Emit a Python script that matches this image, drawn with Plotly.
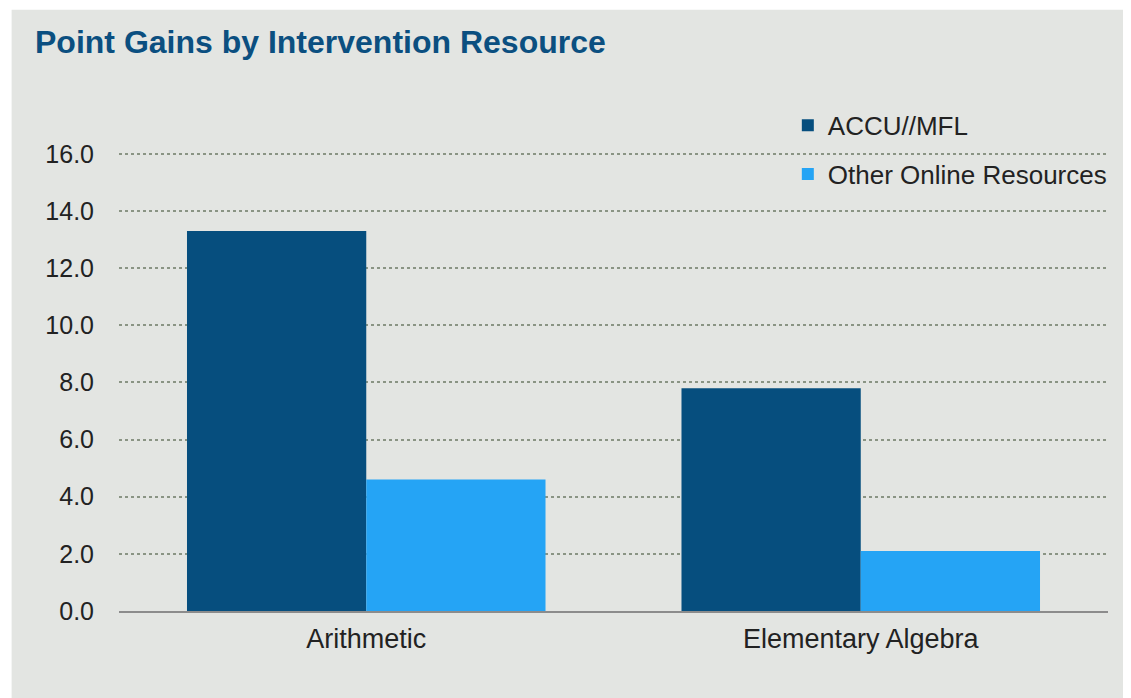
import plotly.graph_objects as go

categories = ["Arithmetic", "Elementary Algebra"]
series_names = ["ACCU//MFL", "Other Online Resources"]
accu_values = [13.3, 7.8]
other_values = [4.6, 2.1]
tick_vals = [0, 2, 4, 6, 8, 10, 12, 14, 16]
tick_text = ["0.0", "2.0", "4.0", "6.0", "8.0", "10.0", "12.0", "14.0", "16.0"]

dark = "#064E7E"
light = "#25A4F5"
bg = "#E3E5E2"

fig = go.Figure()
fig.add_trace(go.Bar(x=categories, y=accu_values, name=series_names[0],
                     marker=dict(color=dark, line=dict(width=0)), legendgroup="a"))
fig.add_trace(go.Bar(x=categories, y=other_values, name=series_names[1],
                     marker=dict(color=light, line=dict(width=0)), legendgroup="b"))

# page body has an 8px margin; work in figure coordinates = screen - 8
OFF = 8
YMAX = 16.1
PX_PER_UNIT = (611 - 154) / 16
W, H = 1131 - OFF, 698 - OFF
L = 118.5 - OFF
R = W - (1108.5 - OFF)
T = 154 - (YMAX - 16) * PX_PER_UNIT - OFF
B = H - (611 - OFF)
pw = W - L - R
ph = H - T - B

def px_x(p):
    return (p - OFF - L) / pw

def px_y(p):
    return (H - B - (p - OFF)) / ph

fig.update_layout(
    width=W, height=H,
    margin=dict(l=L, r=R, t=T, b=B, pad=0),
    paper_bgcolor="white",
    plot_bgcolor="rgba(0,0,0,0)",
    barmode="group",
    bargap=0.275,
    bargroupgap=0,
    font=dict(family="Liberation Sans, Arial, sans-serif", color="#222222", size=22),
    title=dict(text="<b>Point Gains by Intervention Resource</b>",
               font=dict(family="Liberation Sans, Arial", size=32, color="#0B4F80"),
               x=(35 - OFF) / W, xanchor="left", xref="container",
               y=1 - (42 - OFF) / H, yanchor="middle", yref="container"),
    legend=dict(x=px_x(788), xanchor="left", y=px_y(102), yanchor="top",
                bgcolor="rgba(0,0,0,0)", font=dict(size=26, color="#222222"),
                tracegroupgap=12, itemwidth=30, traceorder="grouped"),
    xaxis=dict(range=[-0.5, 1.5], showline=True, linecolor="#8C8C8C", linewidth=2,
               ticks="", showgrid=False, ticklabelstandoff=3,
               tickfont=dict(family="Liberation Sans, Arial", size=27, color="#222222")),
    yaxis=dict(range=[0, YMAX], tickvals=tick_vals, ticktext=tick_text,
               showgrid=True, gridcolor="#8A9484", gridwidth=2, griddash="dot",
               zeroline=False, showline=False, ticks="", ticklabelstandoff=24,
               tickfont=dict(size=25, color="#222222")),
    shapes=[dict(type="rect", xref="paper", yref="paper",
                 x0=px_x(11), x1=px_x(1130), y0=px_y(698), y1=px_y(10),
                 fillcolor=bg, line=dict(width=0), layer="below")],
)

fig.write_html("out.html")
